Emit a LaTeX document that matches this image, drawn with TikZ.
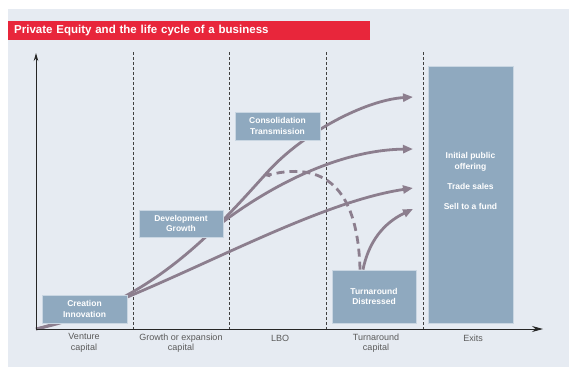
\documentclass[tikz,border=0pt]{standalone}
\usepackage{fontspec}
\setmainfont{Liberation Sans}
\usetikzlibrary{arrows.meta}
\definecolor{panel}{HTML}{E6EBF2}
\definecolor{stagefill}{HTML}{8FA9BF}
\definecolor{stageedge}{HTML}{C9D6E2}
\definecolor{flowcol}{HTML}{8C7E8E}
\definecolor{titlered}{HTML}{E8263B}
\definecolor{labelgrey}{HTML}{5A5A5A}
\pgfdeclarelayer{panellayer}
\pgfdeclarelayer{flowlayer}
\pgfsetlayers{panellayer,flowlayer,main}
\tikzstyle{stage}=[draw=stageedge, fill=stagefill, line width=0.8pt, inner sep=0pt]
\tikzstyle{stagetext}=[text=white, font=\fontsize{8.5}{10.5}\selectfont\bfseries, align=center, inner sep=0pt]
\tikzstyle{titlebar}=[fill=titlered, text=white, font=\fontsize{11.5}{13}\selectfont\bfseries, align=left, inner ysep=0pt, inner xsep=6pt]
\tikzstyle{axislabel}=[text=labelgrey, font=\fontsize{9}{10.5}\selectfont, align=center, inner sep=0pt]
\tikzstyle{phase}=[draw=black!75, line width=0.6pt, densely dashed]
\tikzstyle{axis}=[draw=black!85, line width=0.9pt]
\tikzstyle{flow}=[draw=flowcol, line width=2.8pt, -{Triangle[length=10pt,width=8pt]}]

\begin{document}
\begin{tikzpicture}[x=1pt, y=-1pt]
    \useasboundingbox (0,0) rectangle (580,380);
    \begin{pgfonlayer}{panellayer}
        \fill[panel] (8,9) rectangle (569,367);
    \end{pgfonlayer}
    \node[titlebar, anchor=north west, minimum height=19pt, text width=350pt] (title) at (8,21) {Private Equity and the life cycle of a business};

    % stages
    \node[stage, minimum width=85pt, minimum height=28pt]  (creation) at (84.5,309) {};
    \node[stagetext]                                         at (creation) {Creation\\Innovation};
    \node[stage, minimum width=84pt, minimum height=27pt]  (develop) at (181,223.5) {};
    \node[stagetext]                                         at (develop) {Development\\Growth};
    \node[stage, minimum width=85pt, minimum height=28pt]  (consol) at (277.5,126) {};
    \node[stagetext]                                         at (consol) {Consolidation\\Transmission};
    \node[stage, minimum width=84pt, minimum height=53pt]  (turn) at (374,296.5) {};
    \node[stagetext]                                         at (turn) {Turnaround\\Distressed};
    \node[stage, minimum width=85pt, minimum height=257pt] (exits) at (470.5,194.5) {};
    \node[stagetext] (exitlist) at (470.5,181) {Initial public\\offering\\[10pt]Trade sales\\[9pt]Sell to a fund};

    % axes
    \coordinate (o) at (36,329);
    \coordinate (xend) at (543,329);
    \coordinate (yend) at (36,53);
    \draw[axis, -{Stealth[length=11pt,width=6pt]}] (o) -- (xend);
    \draw[axis, -{Stealth[length=8pt,width=4.5pt]}] (o) -- (yend);

    \node[axislabel] (venture) at (84,343)  {Venture\\capital};
    \node[axislabel] (growth)  at (181,343) {Growth or expansion\\capital};
    \node[axislabel] (lbo)     at (280,338) {LBO};
    \node[axislabel] (turncap) at (376,343) {Turnaround\\capital};
    \node[axislabel] (exitlab) at (473,338) {Exits};

    % flows
    \coordinate (tipA) at (413,97);
    \coordinate (tipB) at (413,149);
    \coordinate (tipC) at (413,188);
    \coordinate (tipD) at (413,209);
    \coordinate (bend) at (264,176);
    \coordinate (branch) at (215,228);
    \begin{pgfonlayer}{flowlayer}
        \foreach \x in {133,229,326,423}
            \draw[phase] (\x,52) -- (\x,329);
        \draw[flow] (o) .. controls (150,305) and (215,230) .. (bend)
            .. controls (300,134) and (365,100) .. (tipA);
        \draw[flow] (branch) .. controls (270,185) and (340,150) .. (tipB);
        \draw[flow] (o) .. controls (150,300) and (300,205) .. (tipC);
        \draw[flow] ([xshift=-11pt]turn.north) .. controls (370,235) and (390,220) .. (tipD);
        \draw[flowcol, line width=2.8pt, dash pattern=on 8pt off 5pt, -{Triangle[length=6pt,width=5pt]}]
            ([xshift=-14pt]turn.north) .. controls (358,195) and (330,160) .. (bend);
    \end{pgfonlayer}
\end{tikzpicture}
\end{document}
